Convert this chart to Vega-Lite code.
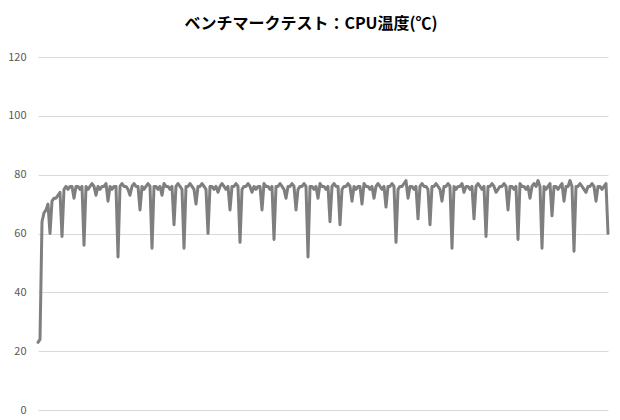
{
  "$schema": "https://vega.github.io/schema/vega-lite/v6.json",
  "width": 570,
  "height": 353,
  "autosize": "none",
  "padding": {"left": 38, "top": 57, "right": 12, "bottom": 10},
  "background": "#ffffff",
  "title": {
    "text": "ベンチマークテスト：CPU温度(℃)",
    "font": "Noto Sans CJK JP",
    "fontSize": 16,
    "fontWeight": "bold",
    "color": "#000000",
    "anchor": "middle",
    "offset": 19,
    "dx": -12
  },
  "config": {
    "view": {"stroke": null},
    "axis": {"labelFont": "Noto Sans CJK JP", "labelFontSize": 11, "labelColor": "#595959"}
  },
  "data": {
    "values": [
      {"t":0,"v":23},{"t":1,"v":24},{"t":2,"v":64},{"t":3,"v":67},{"t":4,"v":68},{"t":5,"v":70},{"t":6,"v":60},{"t":7,"v":71},{"t":8,"v":72},{"t":9,"v":72},
      {"t":10,"v":73},{"t":11,"v":74},{"t":12,"v":59},{"t":13,"v":75},{"t":14,"v":76},{"t":15,"v":75},{"t":16,"v":76},{"t":17,"v":76},{"t":18,"v":72},{"t":19,"v":76},
      {"t":20,"v":76},{"t":21,"v":75},{"t":22,"v":76},{"t":23,"v":56},{"t":24,"v":76},{"t":25,"v":75},{"t":26,"v":76},{"t":27,"v":77},{"t":28,"v":76},{"t":29,"v":73},
      {"t":30,"v":76},{"t":31,"v":75},{"t":32,"v":76},{"t":33,"v":76},{"t":34,"v":77},{"t":35,"v":71},{"t":36,"v":76},{"t":37,"v":75},{"t":38,"v":76},{"t":39,"v":76},
      {"t":40,"v":52},{"t":41,"v":76},{"t":42,"v":77},{"t":43,"v":76},{"t":44,"v":76},{"t":45,"v":75},{"t":46,"v":73},{"t":47,"v":76},{"t":48,"v":77},{"t":49,"v":76},
      {"t":50,"v":76},{"t":51,"v":68},{"t":52,"v":76},{"t":53,"v":75},{"t":54,"v":76},{"t":55,"v":77},{"t":56,"v":76},{"t":57,"v":55},{"t":58,"v":76},{"t":59,"v":76},
      {"t":60,"v":75},{"t":61,"v":76},{"t":62,"v":73},{"t":63,"v":77},{"t":64,"v":76},{"t":65,"v":76},{"t":66,"v":75},{"t":67,"v":76},{"t":68,"v":63},{"t":69,"v":76},
      {"t":70,"v":77},{"t":71,"v":76},{"t":72,"v":75},{"t":73,"v":55},{"t":74,"v":76},{"t":75,"v":76},{"t":76,"v":77},{"t":77,"v":76},{"t":78,"v":75},{"t":79,"v":70},
      {"t":80,"v":76},{"t":81,"v":76},{"t":82,"v":77},{"t":83,"v":76},{"t":84,"v":75},{"t":85,"v":60},{"t":86,"v":76},{"t":87,"v":76},{"t":88,"v":75},{"t":89,"v":76},
      {"t":90,"v":74},{"t":91,"v":76},{"t":92,"v":77},{"t":93,"v":76},{"t":94,"v":75},{"t":95,"v":76},{"t":96,"v":68},{"t":97,"v":76},{"t":98,"v":76},{"t":99,"v":77},
      {"t":100,"v":76},{"t":101,"v":57},{"t":102,"v":75},{"t":103,"v":76},{"t":104,"v":76},{"t":105,"v":77},{"t":106,"v":76},{"t":107,"v":74},{"t":108,"v":76},{"t":109,"v":75},
      {"t":110,"v":76},{"t":111,"v":76},{"t":112,"v":68},{"t":113,"v":77},{"t":114,"v":76},{"t":115,"v":76},{"t":116,"v":75},{"t":117,"v":76},{"t":118,"v":58},{"t":119,"v":76},
      {"t":120,"v":76},{"t":121,"v":77},{"t":122,"v":76},{"t":123,"v":75},{"t":124,"v":72},{"t":125,"v":76},{"t":126,"v":76},{"t":127,"v":77},{"t":128,"v":76},{"t":129,"v":68},
      {"t":130,"v":75},{"t":131,"v":76},{"t":132,"v":76},{"t":133,"v":77},{"t":134,"v":76},{"t":135,"v":52},{"t":136,"v":76},{"t":137,"v":76},{"t":138,"v":75},{"t":139,"v":76},
      {"t":140,"v":72},{"t":141,"v":77},{"t":142,"v":76},{"t":143,"v":76},{"t":144,"v":75},{"t":145,"v":76},{"t":146,"v":64},{"t":147,"v":76},{"t":148,"v":77},{"t":149,"v":76},
      {"t":150,"v":76},{"t":151,"v":63},{"t":152,"v":75},{"t":153,"v":76},{"t":154,"v":76},{"t":155,"v":77},{"t":156,"v":76},{"t":157,"v":71},{"t":158,"v":76},{"t":159,"v":75},
      {"t":160,"v":76},{"t":161,"v":76},{"t":162,"v":70},{"t":163,"v":77},{"t":164,"v":76},{"t":165,"v":76},{"t":166,"v":75},{"t":167,"v":76},{"t":168,"v":72},{"t":169,"v":76},
      {"t":170,"v":77},{"t":171,"v":76},{"t":172,"v":75},{"t":173,"v":76},{"t":174,"v":69},{"t":175,"v":76},{"t":176,"v":76},{"t":177,"v":77},{"t":178,"v":76},{"t":179,"v":57},
      {"t":180,"v":75},{"t":181,"v":76},{"t":182,"v":76},{"t":183,"v":77},{"t":184,"v":78},{"t":185,"v":72},{"t":186,"v":76},{"t":187,"v":76},{"t":188,"v":75},{"t":189,"v":76},
      {"t":190,"v":65},{"t":191,"v":76},{"t":192,"v":77},{"t":193,"v":76},{"t":194,"v":76},{"t":195,"v":75},{"t":196,"v":63},{"t":197,"v":76},{"t":198,"v":76},{"t":199,"v":77},
      {"t":200,"v":76},{"t":201,"v":75},{"t":202,"v":71},{"t":203,"v":76},{"t":204,"v":76},{"t":205,"v":77},{"t":206,"v":76},{"t":207,"v":55},{"t":208,"v":76},{"t":209,"v":75},
      {"t":210,"v":76},{"t":211,"v":76},{"t":212,"v":77},{"t":213,"v":74},{"t":214,"v":76},{"t":215,"v":76},{"t":216,"v":75},{"t":217,"v":76},{"t":218,"v":65},{"t":219,"v":76},
      {"t":220,"v":77},{"t":221,"v":76},{"t":222,"v":75},{"t":223,"v":76},{"t":224,"v":59},{"t":225,"v":76},{"t":226,"v":76},{"t":227,"v":77},{"t":228,"v":76},{"t":229,"v":74},
      {"t":230,"v":75},{"t":231,"v":76},{"t":232,"v":76},{"t":233,"v":77},{"t":234,"v":76},{"t":235,"v":68},{"t":236,"v":76},{"t":237,"v":76},{"t":238,"v":75},{"t":239,"v":76},
      {"t":240,"v":58},{"t":241,"v":77},{"t":242,"v":76},{"t":243,"v":76},{"t":244,"v":75},{"t":245,"v":76},{"t":246,"v":72},{"t":247,"v":76},{"t":248,"v":77},{"t":249,"v":76},
      {"t":250,"v":78},{"t":251,"v":76},{"t":252,"v":55},{"t":253,"v":76},{"t":254,"v":75},{"t":255,"v":76},{"t":256,"v":77},{"t":257,"v":66},{"t":258,"v":76},{"t":259,"v":76},
      {"t":260,"v":75},{"t":261,"v":76},{"t":262,"v":77},{"t":263,"v":71},{"t":264,"v":76},{"t":265,"v":76},{"t":266,"v":78},{"t":267,"v":76},{"t":268,"v":54},{"t":269,"v":76},
      {"t":270,"v":76},{"t":271,"v":77},{"t":272,"v":76},{"t":273,"v":75},{"t":274,"v":74},{"t":275,"v":76},{"t":276,"v":76},{"t":277,"v":77},{"t":278,"v":76},{"t":279,"v":71},
      {"t":280,"v":76},{"t":281,"v":76},{"t":282,"v":75},{"t":283,"v":76},{"t":284,"v":77},{"t":285,"v":60}
    ]
  },
  "mark": {"type": "line", "color": "#7f7f7f", "strokeWidth": 3, "strokeJoin": "round", "strokeCap": "round"},
  "encoding": {
    "x": {
      "field": "t",
      "type": "quantitative",
      "scale": {"domain": [0, 285], "nice": false, "zero": false},
      "axis": null
    },
    "y": {
      "field": "v",
      "type": "quantitative",
      "scale": {"domain": [0, 120], "nice": false},
      "axis": {
        "title": null,
        "values": [0, 20, 40, 60, 80, 100, 120],
        "domain": false,
        "ticks": false,
        "labelPadding": 12,
        "grid": true,
        "gridColor": "#d9d9d9",
        "gridWidth": 1
      }
    }
  }
}
